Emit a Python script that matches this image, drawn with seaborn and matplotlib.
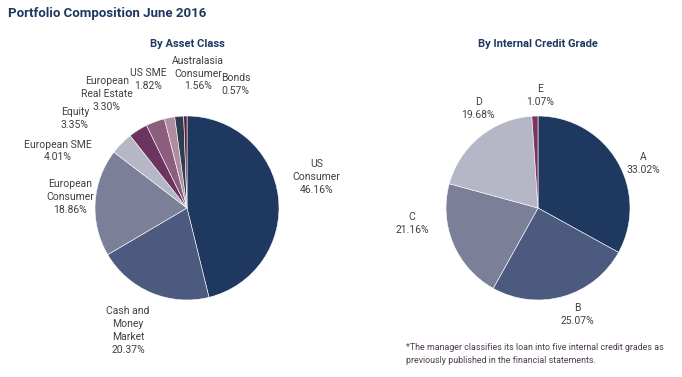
import matplotlib
matplotlib.use("Agg")
import matplotlib.pyplot as plt
import seaborn as sns

# data
asset_labels = ["US\nConsumer", "Cash and\nMoney\nMarket", "European\nConsumer", "European SME",
                "Equity", "European\nReal Estate", "US SME", "Australasia\nConsumer", "Bonds"]
asset_values = [46.16, 20.37, 18.86, 4.01, 3.35, 3.30, 1.82, 1.56, 0.57]
asset_colors = ["#1e3860", "#4b5a7e", "#7c7f98", "#b5b7c6", "#6b3560",
                "#8d5d7d", "#b08ca3", "#2e3d4f", "#5a1a35"]

grade_labels = ["A", "B", "C", "D", "E"]
grade_values = [33.02, 25.07, 21.16, 19.68, 1.07]
grade_colors = ["#1e3860", "#4b5a7e", "#7c7f98", "#b5b7c6", "#7a3565"]

# label offsets from pie centre (in pie radii)
asset_label_pos = [(1.41, 0.34), (-0.64, -1.33), (-1.27, 0.12), (-1.40, 0.62), (-1.22, 0.97),
                   (-0.87, 1.24), (-0.42, 1.40), (0.12, 1.46), (0.53, 1.34)]
grade_label_pos = [(1.14, 0.48), (0.43, -1.16), (-1.37, -0.17), (-0.65, 1.08), (0.02, 1.22)]

sns.set_theme(style="white")
plt.rcParams["font.family"] = ["Roboto", "DejaVu Sans"]

navy = "#1e3860"
txt = "#404040"
W, H = 682, 377
R = 92  # pie radius in px
half = 150


def pie_axes(fig, cx, cy):
    ax = fig.add_axes([(cx - half) / W, (H - cy - half) / H, 2 * half / W, 2 * half / H])
    ax.set_aspect("equal")
    ax.axis("off")
    return ax


def draw_pie(ax, values, labels, colors, positions):
    ax.pie(values, colors=colors, startangle=90, counterclock=False, radius=1,
           wedgeprops=dict(edgecolor="white", linewidth=0.4))
    ax.set_xlim(-half / R, half / R)
    ax.set_ylim(-half / R, half / R)
    for lab, v, (dx, dy) in zip(labels, values, positions):
        ax.text(dx, dy, f"{lab}\n{v:.2f}%", ha="center", va="center",
                fontsize=7.5, color=txt, linespacing=1.35, clip_on=False)


fig = plt.figure(figsize=(W / 100, H / 100), dpi=100)

ax1 = pie_axes(fig, 187, 208)
draw_pie(ax1, asset_values, asset_labels, asset_colors, asset_label_pos)

ax2 = pie_axes(fig, 538, 208)
draw_pie(ax2, grade_values, grade_labels, grade_colors, grade_label_pos)

fig.text(8 / W, 1 - 14 / H, "Portfolio Composition June 2016", ha="left", va="center",
         fontsize=9.5, fontweight="bold", color=navy)
fig.text(187 / W, 1 - 44 / H, "By Asset Class", ha="center", va="center",
         fontsize=8, fontweight="bold", color=navy)
fig.text(538 / W, 1 - 44 / H, "By Internal Credit Grade", ha="center", va="center",
         fontsize=8, fontweight="bold", color=navy)
fig.text(406 / W, 1 - 354 / H,
         "*The manager classifies its loan into five internal credit grades as\n"
         "previously published in the financial statements.",
         ha="left", va="center", fontsize=6.4, color="#4d3a50", linespacing=1.45)

fig.savefig("out.png", dpi=100, facecolor="white")
